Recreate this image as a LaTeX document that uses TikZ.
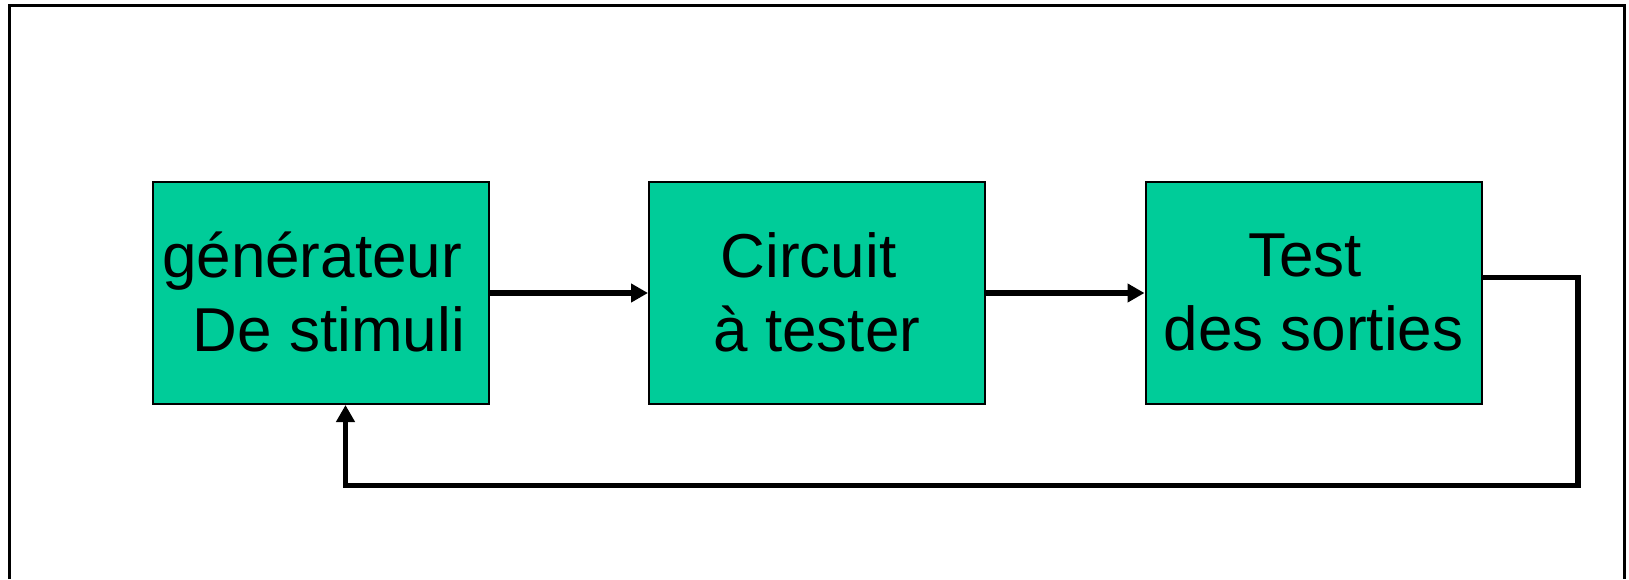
\documentclass[tikz,border=0pt]{standalone}
\usepackage{fontspec}
\setmainfont{Liberation Sans}
\usetikzlibrary{arrows.meta}
\definecolor{vert}{RGB}{0,204,153}
\newcommand{\esp}{\kern17pt}
\tikzset{
	bloc/.style={draw=black, line width=2pt, fill=vert, minimum width=336pt,
		minimum height=222pt, inner sep=0pt, align=center,
		font=\fontsize{62}{74}\selectfont,
		execute at end node=\rule[-2pt]{0pt}{2pt}},
	fleche/.style={line width=5.5pt, -{Triangle[length=17pt,width=18pt]}}
}
\begin{document}
\begin{tikzpicture}[x=1pt, y=-1pt]
	\useasboundingbox (0,0) rectangle (1629,579);
	% Cadre
	\draw[line width=3pt] (9.5,579) -- (9.5,5.5) -- (1624.7,5.5) -- (1624.7,579);
	% Blocs
	\node[bloc] (gen) at (320.5,293) {générateur\esp\\\esp De stimuli};
	\node[bloc] (circ) at (817,293) {Circuit\esp\\à tester};
	\node[bloc] (fin) at (1313.5,293) {Test\esp\\des sorties};
	% Liaisons
	\draw[fleche] (gen) -- (circ);
	\draw[fleche] (circ) -- (fin);
	% Retour
	\coordinate (coin) at (1578,485.5);
	\draw[fleche] ([yshift=15.5pt]fin.east) -| (coin) -| ([xshift=25pt]gen.south);
\end{tikzpicture}
\end{document}
